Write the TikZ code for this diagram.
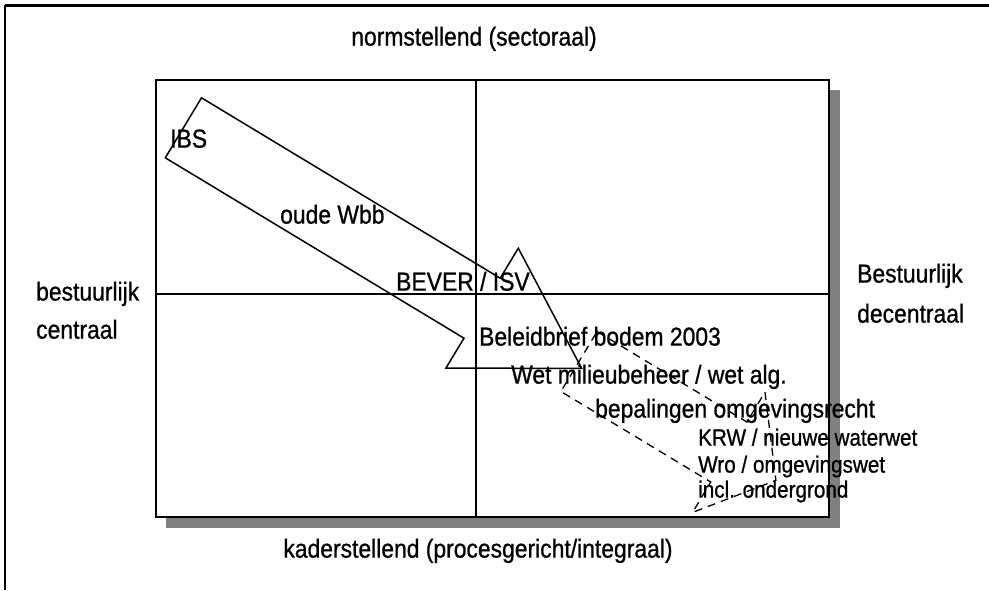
\documentclass[tikz,border=0pt]{standalone}
\usepackage{fontspec}
\setmainfont{Liberation Sans}[FakeStretch=0.88,FakeBold=0.8]
\begin{document}
\begin{tikzpicture}[x=1pt,y=-1pt,
  lbl/.style={font=\fontsize{26}{30}\selectfont, inner sep=0pt, anchor=west, text height=0.72em, text depth=0.2em},
  smlbl/.style={lbl, font=\fontsize{23.5}{26}\selectfont},
  framebox/.style={draw=black, line width=2pt, fill=white},
  shadowbox/.style={fill=black!50, draw=none},
  axisline/.style={draw=black, line width=1.3pt},
  solidarrow/.style={draw=black, line width=1.5pt, line join=miter},
  dasharrow/.style={draw=black, line width=1.3pt, dash pattern=on 8pt off 6pt}]
\useasboundingbox (0,0) rectangle (989,590);
\fill[white] (0,0) rectangle (989,590);
% outer frame (top and left edges)
\coordinate (ftl) at (5,5);
\coordinate (ftr) at (989,5);
\coordinate (fbl) at (5,590);
\draw[line width=3pt] (ftr) -- (ftl);
\draw[line width=2pt] (ftl) -- (fbl);
% shadow and main box
\path[shadowbox] (166,90) rectangle (840,528);
\path[framebox] (156,80) rectangle (829,517);
% axes
\coordinate (vt) at (476,80);
\coordinate (vb) at (476,517);
\coordinate (hl) at (156,294);
\coordinate (hr) at (829,294);
\draw[axisline] (vt) -- (vb);
\draw[axisline] (hl) -- (hr);
% solid block arrow
\coordinate (T1) at (201.5,97.8);
\coordinate (S1) at (500.2,278.2);
\coordinate (H1) at (518.3,248.2);
\coordinate (TP) at (581.7,368.4);
\coordinate (H2) at (445.9,368.1);
\coordinate (S2) at (464.0,338.2);
\coordinate (T2) at (165.3,157.8);
\draw[solidarrow] (T1) -- (S1) -- (H1) -- (TP) -- (H2) -- (S2) -- (T2) -- cycle;
% dashed block arrow
\coordinate (D1) at (597.1,331.5);
\coordinate (DS1) at (746.9,422.0);
\coordinate (DH1) at (765.0,392.1);
\coordinate (DTP) at (775.9,480.4);
\coordinate (DH2) at (692.6,512.4);
\coordinate (DS2) at (710.7,482.0);
\coordinate (D2) at (560.9,391.5);
\draw[dasharrow] (D1) -- (DS1) -- (DH1) -- (DTP) -- (DH2) -- (DS2) -- (D2) -- cycle;
% labels
\node[lbl, anchor=center] (norm) at (474,43) {normstellend (sectoraal)};
\node[lbl, anchor=center] (kader) at (478,555) {kaderstellend (procesgericht/integraal)};
\node[lbl] (bc1) at (36,298) {bestuurlijk};
\node[lbl] (bc2) at (36,336) {centraal};
\node[lbl] (bd1) at (857,280) {Bestuurlijk};
\node[lbl] (bd2) at (857,320) {decentraal};
\node[lbl] (ibs) at (170,145) {IBS};
\node[lbl] (wbb) at (280,221) {oude Wbb};
\node[lbl] (bever) at (396,288) {BEVER / ISV};
\node[lbl] (bel) at (479,343) {Beleidbrief bodem 2003};
\node[lbl] (wm) at (511,381) {Wet milieubeheer / wet alg.};
\node[lbl] (bep) at (595,415) {bepalingen omgevingsrecht};
\node[smlbl] (krw) at (698,443) {KRW / nieuwe waterwet};
\node[smlbl] (wro) at (698,470) {Wro / omgevingswet};
\node[smlbl] (incl) at (698,495) {incl. ondergrond};
\end{tikzpicture}
\end{document}
